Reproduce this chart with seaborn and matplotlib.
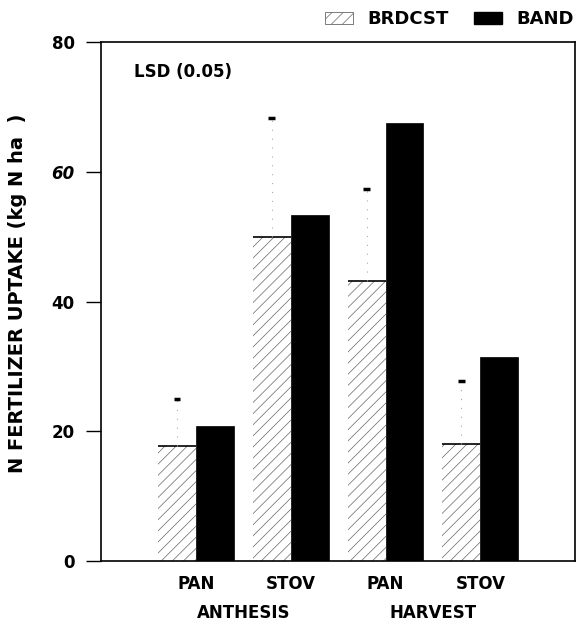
import matplotlib
matplotlib.use("Agg")
import matplotlib.pyplot as plt
import seaborn as sns
import pandas as pd
from matplotlib.patches import Patch

# ---- data ----
parts = ["PAN", "STOV", "PAN", "STOV"]
stages = ["ANTHESIS", "HARVEST"]
keys = ["ANTHESIS PAN", "ANTHESIS STOV", "HARVEST PAN", "HARVEST STOV"]
methods = ["BRDCST", "BAND"]
brdcst = [17.8, 49.9, 43.2, 18.1]
band = [20.8, 53.3, 67.6, 31.5]
lsd_top = [25.0, 68.4, 57.3, 27.8]
yticks = [0, 20, 40, 60, 80]

sns.set_theme(style="white")
plt.rcParams["font.family"] = ["DejaVu Sans"]
plt.rcParams["text.color"] = "black"
plt.rcParams["axes.labelcolor"] = "black"
plt.rcParams["xtick.color"] = "black"
plt.rcParams["ytick.color"] = "black"
plt.rcParams["hatch.linewidth"] = 0.5
plt.rcParams["hatch.color"] = "#666666"

df = pd.DataFrame({
    "key": keys * 2,
    "method": [methods[0]] * 4 + [methods[1]] * 4,
    "value": brdcst + band,
})

fig = plt.figure(figsize=(5.77, 6.22), dpi=100)
ax = fig.add_axes([0.175, 0.098, 0.822, 0.834])

sns.barplot(data=df, x="key", y="value", hue="method", order=keys,
            hue_order=methods, palette={"BRDCST": "white", "BAND": "black"},
            width=0.8, legend=False, ax=ax, saturation=1, errorbar=None)

bars = ax.patches
for i, p in enumerate(bars):
    if i < 4:
        p.set_hatch("///")
        p.set_edgecolor("#666666")
        p.set_linewidth(0)
    else:
        p.set_edgecolor("black")
        p.set_linewidth(0.5)

# top edges of hatched bars + LSD marks
for i in range(4):
    p = bars[i]
    x0, w, h = p.get_x(), p.get_width(), p.get_height()
    ax.plot([x0, x0 + w], [h, h], color="black", lw=1.2, solid_capstyle="butt")
    cx = x0 + w / 2
    ax.plot([cx, cx], [h, lsd_top[i]], color="#aaaaaa", lw=0.8, ls=(0, (1, 7)))
    ax.plot([cx - 0.035, cx + 0.035], [lsd_top[i], lsd_top[i]], color="black", lw=2.5,
            solid_capstyle="butt")

ax.set_xlim(-1, 4)
ax.set_ylim(0, 80)
ax.set_yticks(yticks)
ax.set_yticklabels([str(v) for v in yticks], fontsize=12, fontweight="bold")
for lab in ax.get_yticklabels():
    if lab.get_text() == "60":
        lab.set_style("italic")
ax.tick_params(axis="y", direction="out", length=11, width=1, color="black", pad=8, left=True)
ax.set_xticks(range(4))
ax.set_xticklabels(parts, fontsize=12, fontweight="bold")
ax.tick_params(axis="x", length=0, pad=10)
ax.set_xlabel("")
ax.set_ylabel("N FERTILIZER UPTAKE (kg N ha  )", fontsize=14, fontweight="bold")
ax.yaxis.set_label_coords(-0.155, 0.517)

for s in ax.spines.values():
    s.set_visible(True)
    s.set_color("black")
    s.set_linewidth(1.2)

# stage labels
for j, st in enumerate(stages):
    ax.text(2 * j + 0.5, -0.1, st, transform=ax.get_xaxis_transform(),
            ha="center", va="center", fontsize=12, fontweight="bold")

ax.text(0.07, 0.943, "LSD (0.05)", transform=ax.transAxes, ha="left", va="center",
        fontsize=12, fontweight="bold")

handles = [Patch(facecolor="white", edgecolor="#666666", hatch="///", linewidth=0.6),
           Patch(facecolor="black", edgecolor="black")]
fig.legend(handles, methods, loc="center right", bbox_to_anchor=(574 / 577, 1 - 19 / 622),
           ncol=2, frameon=False, prop={"weight": "bold", "size": 13}, handlelength=1.55,
           handleheight=0.65, columnspacing=1.4, handletextpad=0.8, borderpad=0,
           borderaxespad=0)

fig.savefig("out.png", dpi=100)
